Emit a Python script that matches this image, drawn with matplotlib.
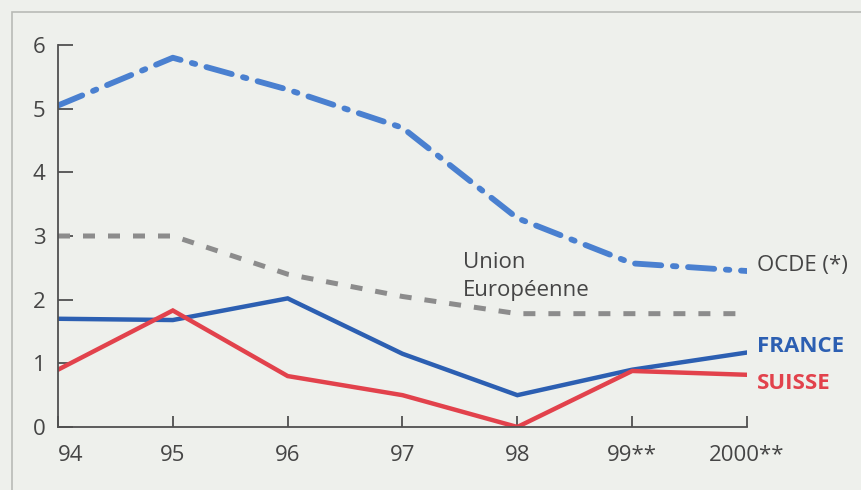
import matplotlib.pyplot as plt
from matplotlib.patches import Rectangle

plt.rcParams['font.family'] = ['Open Sans', 'DejaVu Sans']

years = ["94", "95", "96", "97", "98", "99**", "2000**"]
ocde = [5.05, 5.8, 5.3, 4.7, 3.28, 2.57, 2.45]
ue = [3.0, 3.0, 2.4, 2.05, 1.78, 1.78, 1.78]
france = [1.7, 1.68, 2.02, 1.15, 0.5, 0.9, 1.17]
suisse = [0.9, 1.83, 0.8, 0.5, 0.0, 0.88, 0.82]

bg = "#eef0ec"
blue_light = "#4a80d0"
blue = "#2c5fb2"
red = "#e2424c"
grey = "#8c8c8c"
axis_col = "#505050"
txt = "#454545"

fig = plt.figure(figsize=(8.62, 4.9), dpi=100, facecolor=bg)
fig.patches.append(Rectangle((12 / 862, -0.1), 1.2, 1 - 12 / 490 + 0.1,
                             transform=fig.transFigure, fill=False,
                             edgecolor="#b8bab6", linewidth=1.2))
ax = fig.add_axes([58 / 862, 1 - 427 / 490, (747 - 58) / 862, (427 - 45) / 490])
ax.set_facecolor(bg)

x = range(len(years))
ax.plot(x, ocde, color=blue_light, lw=4.2, dashes=(4.5, 2.0, 0.6, 2.0),
        solid_capstyle="round", dash_capstyle="round")
ax.plot(x, ue, color=grey, lw=3.6, dashes=(2.4, 2.6), dash_capstyle="butt")
ax.plot(x, france, color=blue, lw=3.2, solid_joinstyle="miter")
ax.plot(x, suisse, color=red, lw=3.2, solid_joinstyle="miter")

ax.set_xlim(0, len(years) - 1)
ax.set_ylim(0, 6)
ax.set_yticks(range(7))
ax.set_xticks(list(x))
ax.set_xticklabels(years)
ax.get_xticklabels()[0].set_horizontalalignment("left")
for s in ["top", "right"]:
    ax.spines[s].set_visible(False)
for s in ["left", "bottom"]:
    ax.spines[s].set_color(axis_col)
    ax.spines[s].set_linewidth(1.3)
ax.tick_params(axis="y", direction="in", length=11, width=1.3, color=axis_col,
               labelsize=16, labelcolor=txt, pad=9)
ax.tick_params(axis="x", direction="in", length=8, width=1.3, color=axis_col,
               labelsize=16, labelcolor=txt, pad=13)

ax.text(3.53, 2.59, "Union", fontsize=16, color=txt, va="center", ha="left")
ax.text(3.53, 2.15, "Européenne", fontsize=16, color=txt, va="center", ha="left")
ax.text(6.09, 2.53, "OCDE (*)", fontsize=16, color=txt, va="center")
ax.text(6.09, 1.27, "FRANCE", fontsize=16, color=blue, fontweight="bold",
        va="center")
ax.text(6.09, 0.69, "SUISSE", fontsize=16, color=red, fontweight="bold",
        va="center")
for t in ax.texts:
    t.set_clip_on(False)

fig.savefig("out.png", dpi=100, facecolor=bg)
